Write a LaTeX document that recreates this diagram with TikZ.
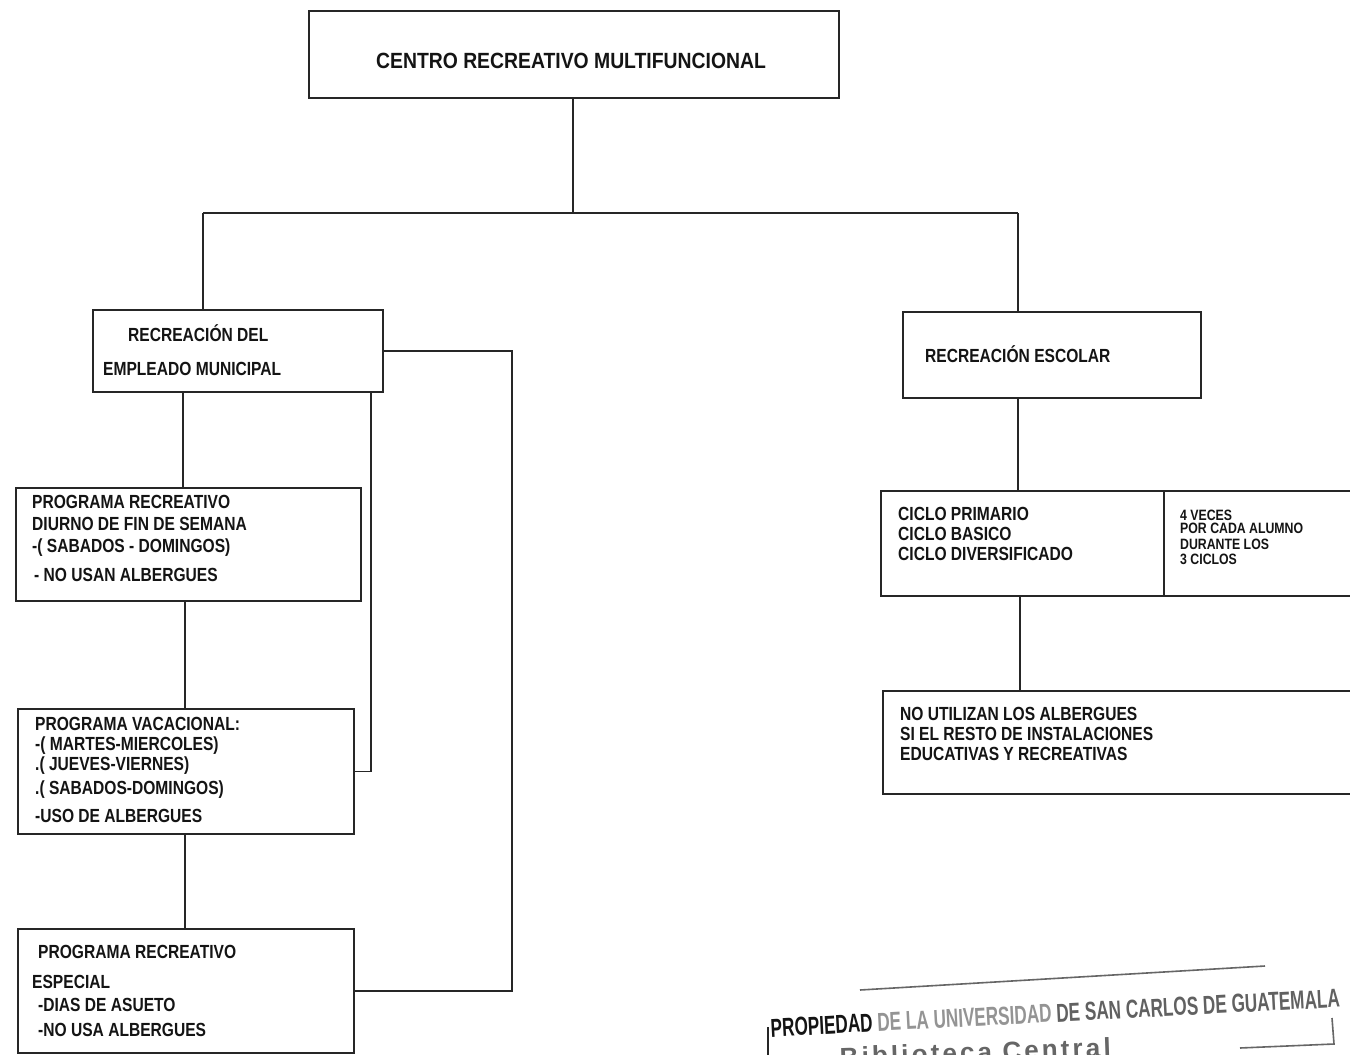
\documentclass[tikz,border=0pt]{standalone}
\usepackage{fontspec}
\setmainfont{Liberation Sans}
\newfontfamily\hand[FakeStretch=0.82]{Liberation Sans}
\newfontfamily\titlehand[FakeStretch=0.88]{Liberation Sans}
\newfontfamily\stampfont[FakeStretch=0.66]{Liberation Sans}
\newfontfamily\stampsmall[LetterSpace=12]{Liberation Sans}
\usetikzlibrary{calc}
\begin{document}
\begin{tikzpicture}[x=1pt,y=-1pt,
  box/.style={draw=black!85, line width=1.8pt, rectangle, inner sep=0pt, anchor=north west},
  conn/.style={draw=black!85, line width=1.7pt},
  txt/.style={inner sep=0pt, anchor=north west, align=left, text=black!92,
    font=\hand\bfseries\fontsize{19}{20}\selectfont},
  stampline/.style={draw=black!60, line width=1.6pt}
]
\useasboundingbox (0,0) rectangle (1350,1055);
\clip (0,0) rectangle (1350,1055);
\fill[white] (0,0) rectangle (1350,1055);

% boxes
\node[box, minimum width=530pt, minimum height=87pt] (top) at (308,10) {};
\node[box, minimum width=290pt, minimum height=82pt] (emp) at (92,309) {};
\node[box, minimum width=298pt, minimum height=86pt] (esc) at (902,311) {};
\node[box, minimum width=345pt, minimum height=113pt] (p1) at (15,487) {};
\node[box, minimum width=336pt, minimum height=125pt] (vac) at (17,708) {};
\node[box, minimum width=336pt, minimum height=124pt] (esp) at (17,928) {};
\node[box, minimum width=283pt, minimum height=105pt] (ciclo) at (880,490) {};
\node[box, minimum width=220pt, minimum height=105pt] (veces) at (1163,490) {};
\node[box, minimum width=500pt, minimum height=103pt] (noutil) at (882,690) {};

% texts
\node[txt, anchor=center, font=\titlehand\bfseries\fontsize{22}{24}\selectfont] (ttop) at (571,61) {CENTRO RECREATIVO MULTIFUNCIONAL};
\node[txt] (temp) at (103,324) {\hspace*{25pt}RECREACIÓN DEL\\[14pt]EMPLEADO MUNICIPAL};
\node[txt, anchor=base west] (tesc) at (925,362) {RECREACIÓN ESCOLAR};
\node[txt, font=\hand\bfseries\fontsize{19}{22}\selectfont] (tp1) at (32,495) {PROGRAMA RECREATIVO\\DIURNO DE FIN DE SEMANA\\-( SABADOS - DOMINGOS)\\[7pt]\hspace*{2pt}- NO USAN ALBERGUES};
\node[txt] (tvac) at (35,717) {PROGRAMA VACACIONAL:\\-( MARTES-MIERCOLES)\\.( JUEVES-VIERNES)\\[4pt].( SABADOS-DOMINGOS)\\[8pt]-USO DE ALBERGUES};
\node[txt, font=\hand\bfseries\fontsize{19}{24}\selectfont] (tesp) at (32,945) {\hspace*{6pt}PROGRAMA RECREATIVO\\[6pt]ESPECIAL\\[-1pt]\hspace*{6pt}-DIAS DE ASUETO\\[1pt]\hspace*{6pt}-NO USA ALBERGUES};
\node[txt] (tciclo) at (898,507) {CICLO PRIMARIO\\CICLO BASICO\\CICLO DIVERSIFICADO};
\node[txt, font=\hand\bfseries\fontsize{15}{16}\selectfont] (tveces) at (1180,510) {4 VECES\\[-3pt]POR CADA ALUMNO\\DURANTE LOS\\[-1pt]3 CICLOS};
\node[txt] (tnoutil) at (900,707) {NO UTILIZAN LOS ALBERGUES\\SI EL RESTO DE INSTALACIONES\\EDUCATIVAS Y RECREATIVAS};

% connectors
\coordinate (jl) at (203,213);
\coordinate (jr) at (1018,213);
\draw[conn] (top.south -| 573,0) -- (573,213);
\draw[conn] (jl) -- (jr);
\draw[conn] (jl) -- (jl |- emp.north);
\draw[conn] (jr) -- (jr |- esc.north);
\draw[conn] (emp.south -| 183,0) -- (p1.north -| 183,0);
\draw[conn] (p1.south -| 185,0) -- (vac.north -| 185,0);
\draw[conn] (vac.south -| 185,0) -- (esp.north -| 185,0);
\draw[conn] (emp.east) -- ++(128,0) |- (esp.east);
\draw[conn] (emp.south -| 371,0) |- (vac.east);
\draw[conn] (esc.south -| 1018,0) -- (ciclo.north -| 1018,0);
\draw[conn] (ciclo.south -| 1020,0) -- (noutil.north -| 1020,0);

% library stamp
\node[rotate=3, anchor=base west, inner sep=0pt, text=black!62,
  font=\stampfont\bfseries\fontsize{26}{26}\selectfont] (stamp) at (771,1037)
  {\textcolor{black!92}{PROPIEDAD} \textcolor{black!42}{DE LA UNIVERSIDAD} DE SAN CARLOS DE GUATEMALA};
\node[rotate=2, anchor=base west, inner sep=0pt, text=black!60,
  font=\stampsmall\bfseries\fontsize{26}{26}\selectfont] (stamp2) at (840,1066)
  {Biblioteca Central};
\draw[stampline, line width=2pt, draw=black!85] (768,1027) -- (768,1055);
\draw[stampline] (860,990) -- (1265,966);
\draw[stampline] (1332,1018) -- (1334,1044) -- (1240,1048);
\end{tikzpicture}
\end{document}
